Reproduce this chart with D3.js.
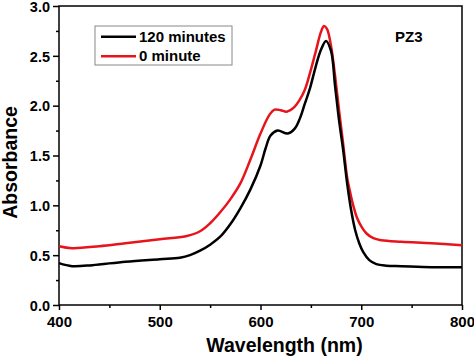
<!DOCTYPE html>
<html><head><meta charset="utf-8">
<script src="https://cdn.jsdelivr.net/npm/d3@7"></script>
<style>body{margin:0;background:#fff}svg{display:block}text{font-family:"Liberation Sans",Arial,sans-serif;font-weight:bold}</style>
</head><body>
<script>
const wavelengths120 = [400,413,433,466,500,520,530,540,550,560,570,580,590,600,605,610,617,627,634,639,644,649,655,660,665,670,674,678,682,686,690,694,698,702,708,715,725,740,770,800];
const absorb120 = [0.42,0.39,0.40,0.435,0.46,0.475,0.50,0.545,0.605,0.685,0.81,0.97,1.16,1.40,1.57,1.70,1.75,1.72,1.77,1.87,2.02,2.17,2.40,2.56,2.65,2.55,2.20,1.85,1.56,1.22,0.95,0.75,0.62,0.53,0.45,0.41,0.395,0.39,0.38,0.38];
const wavelengths0 = [400,413,440,466,500,526,540,550,560,570,580,590,600,609,614,620,626,633,639,644,650,655,660,663,666,670,674,678,682,686,689,692,696,700,705,712,720,740,770,800];
const absorb0 = [0.59,0.57,0.59,0.62,0.66,0.69,0.74,0.82,0.93,1.06,1.22,1.46,1.72,1.91,1.96,1.955,1.94,1.98,2.06,2.16,2.36,2.55,2.74,2.80,2.77,2.60,2.30,1.95,1.62,1.28,1.13,1.00,0.87,0.79,0.72,0.67,0.65,0.635,0.62,0.60];
const seriesNames = ["120 minutes","0 minute"];
const seriesColors = ["#000000","#e8141c"];
const xTicks = [400,500,600,700,800];
const yTicks = [0.0,0.5,1.0,1.5,2.0,2.5,3.0];
const sampleLabel = "PZ3";

const W=474,H=356;
const m={l:59,r:12,t:6,b:51};
const svg=d3.select("body").append("svg").attr("width",W).attr("height",H);
const x=d3.scaleLinear().domain([400,800]).range([m.l,W-m.r]);
const y=d3.scaleLinear().domain([0,3]).range([H-m.b,m.t]);

svg.append("rect").attr("x",x(400)).attr("y",y(3)).attr("width",x(800)-x(400)).attr("height",y(0)-y(3))
  .attr("fill","none").attr("stroke","#000").attr("stroke-width",1.5);

const gx=svg.append("g").attr("transform",`translate(0,${y(0)})`)
  .call(d3.axisBottom(x).tickValues(d3.range(450,800,100)).tickSize(3).tickFormat(""));
const gx2=svg.append("g").attr("transform",`translate(0,${y(0)})`)
  .call(d3.axisBottom(x).tickValues(xTicks).tickSize(5).tickPadding(6).tickFormat(d3.format("d")));
[gx,gx2].forEach(g=>{g.select(".domain").remove();g.selectAll("line").attr("stroke","#000").attr("stroke-width",1.5);});
gx2.selectAll("text").attr("font-size",15).attr("fill","#000").style("font-family","Liberation Sans, Arial").style("font-weight","bold");

const gy=svg.append("g").attr("transform",`translate(${x(400)},0)`)
  .call(d3.axisLeft(y).tickValues(d3.range(0.25,3,0.5)).tickSize(3).tickFormat(""));
const gy2=svg.append("g").attr("transform",`translate(${x(400)},0)`)
  .call(d3.axisLeft(y).tickValues(yTicks).tickSize(6).tickPadding(3).tickFormat(d3.format(".1f")));
[gy,gy2].forEach(g=>{g.select(".domain").remove();g.selectAll("line").attr("stroke","#000").attr("stroke-width",1.5);});
gy2.selectAll("text").attr("font-size",14.5).attr("fill","#000").attr("dy","0.36em").style("font-family","Liberation Sans, Arial").style("font-weight","bold");

const line=d3.line().x(d=>x(d[0])).y(d=>y(d[1])).curve(d3.curveCatmullRom);
const data=[d3.zip(wavelengths120,absorb120), d3.zip(wavelengths0,absorb0)];
svg.append("path").datum(data[1]).attr("d",line).attr("fill","none").attr("stroke",seriesColors[1]).attr("stroke-width",2.5);
svg.append("path").datum(data[0]).attr("d",line).attr("fill","none").attr("stroke",seriesColors[0]).attr("stroke-width",2.5);

const lg=svg.append("g");
lg.append("rect").attr("x",95).attr("y",26).attr("width",137).attr("height",39).attr("fill","#fff").attr("stroke","#888").attr("stroke-width",1);
seriesNames.forEach((n,i)=>{
  const yy=36.7+i*19.5;
  lg.append("line").attr("x1",101).attr("x2",136).attr("y1",yy).attr("y2",yy).attr("stroke",seriesColors[i]).attr("stroke-width",2.5);
  lg.append("text").attr("x",139).attr("y",yy+5.2).attr("font-size",15).attr("fill","#000").text(n);
});

svg.append("text").attr("x",395).attr("y",41.5).attr("font-size",15).attr("fill","#000").text(sampleLabel);

svg.append("text").attr("x",284.5).attr("y",352).attr("text-anchor","middle").attr("font-size",19.5).attr("fill","#000").text("Wavelength (nm)");
svg.append("text").attr("transform",`translate(16.5,162.5) rotate(-90)`).attr("text-anchor","middle").attr("font-size",19.5).attr("fill","#000").text("Absorbance");
</script>
</body></html>
